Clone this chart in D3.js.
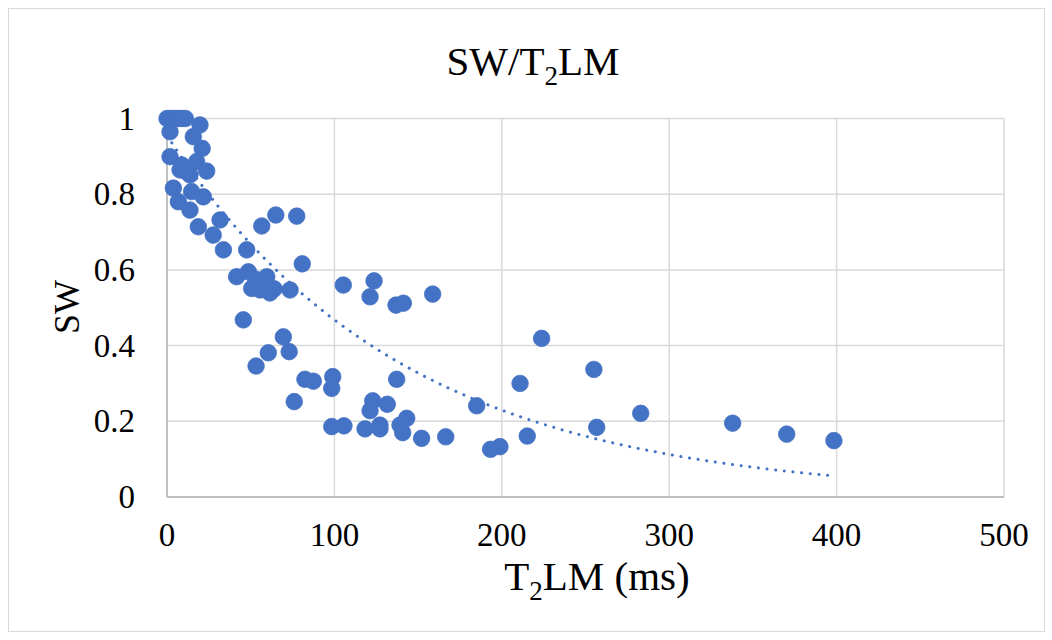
<!DOCTYPE html>
<html>
<head>
<meta charset="utf-8">
<script src="https://cdn.jsdelivr.net/npm/d3@7"></script>
<style>
  body { margin: 0; background: #fff; }
  text { font-family: "Liberation Serif", "Times New Roman", serif; fill: #000; }
</style>
</head>
<body>
<svg id="chart" width="1052" height="640"></svg>
<script>
// T2LM (ms) values of each sample
const t2lm = [
  0, 1.5, 3, 5, 7, 9, 11, 1.8, 19.7, 15.7,
  21, 1.8, 8.8, 17.7, 23.7, 7.8, 13.7, 11.8, 3.8, 14.7,
  21.7, 6.8, 13.7, 31.7, 18.7, 27.6, 33.7, 47.6, 56.6, 65,
  77.5, 80.8, 41.6, 48.6, 59.6, 50.6, 55.6, 61.5, 73.5, 57,
  64, 53, 45.6, 69.5, 60.5, 73, 53.2, 82.4, 87.4, 99,
  98.4, 76, 98.4, 105.7, 118.3, 127.2, 127.2, 122.9, 121.3, 131.6,
  137.2, 105.3, 123.7, 121.3, 136.8, 141.2, 158.7, 185, 143.2, 139.2,
  140.8, 152.1, 166.5, 193.3, 198.9, 223.8, 255, 210.9, 283, 256.7,
  215.2, 337.9, 370.2, 398.4
];
// SW values, same order
const sw = [
  1, 1, 1, 1, 1, 1, 1, 0.965, 0.983, 0.952,
  0.921, 0.899, 0.877, 0.886, 0.861, 0.864, 0.851, 0.859, 0.816, 0.807,
  0.793, 0.780, 0.758, 0.732, 0.714, 0.692, 0.653, 0.653, 0.716, 0.745,
  0.742, 0.616, 0.582, 0.595, 0.582, 0.551, 0.547, 0.539, 0.547, 0.565,
  0.55, 0.575, 0.468, 0.423, 0.381, 0.384, 0.346, 0.311, 0.306, 0.318,
  0.287, 0.252, 0.186, 0.188, 0.180, 0.190, 0.180, 0.254, 0.228, 0.245,
  0.311, 0.560, 0.571, 0.529, 0.507, 0.512, 0.536, 0.241, 0.208, 0.190,
  0.170, 0.155, 0.159, 0.126, 0.133, 0.419, 0.337, 0.300, 0.221, 0.184,
  0.161, 0.195, 0.166, 0.149
];
// exponential trendline SW = a * exp(-b * T2LM)
const trendA = 0.955;
const trendB = 0.00713;

const xTicks = [0, 100, 200, 300, 400, 500];
const yTicks = [0, 0.2, 0.4, 0.6, 0.8, 1];

const blue = "#4472C4";
const svg = d3.select("#chart");

// chart border
svg.append("rect")
  .attr("x", 8.5).attr("y", 8.5)
  .attr("width", 1036).attr("height", 623)
  .attr("fill", "#fff")
  .attr("stroke", "#d9d9d9")
  .attr("stroke-width", 1);

const x = d3.scaleLinear().domain([0, 500]).range([167, 1004]);
const y = d3.scaleLinear().domain([0, 1]).range([497, 118.5]);

// gridlines
svg.append("g").selectAll("line")
  .data(yTicks.slice(1))
  .enter().append("line")
  .attr("x1", x(0)).attr("x2", x(500))
  .attr("y1", d => y(d)).attr("y2", d => y(d))
  .attr("stroke", "#d9d9d9").attr("stroke-width", 1.5);

svg.append("g").selectAll("line")
  .data(xTicks.slice(1))
  .enter().append("line")
  .attr("x1", d => x(d)).attr("x2", d => x(d))
  .attr("y1", y(0)).attr("y2", y(1))
  .attr("stroke", "#d9d9d9").attr("stroke-width", 1.5);

// axis lines
svg.append("line")
  .attr("x1", x(0)).attr("x2", x(500))
  .attr("y1", y(0)).attr("y2", y(0))
  .attr("stroke", "#bfbfbf").attr("stroke-width", 2);
svg.append("line")
  .attr("x1", x(0)).attr("x2", x(0))
  .attr("y1", y(0)).attr("y2", y(1))
  .attr("stroke", "#bfbfbf").attr("stroke-width", 2);

// tick labels
svg.append("g").selectAll("text")
  .data(xTicks)
  .enter().append("text")
  .attr("x", d => x(d)).attr("y", 546)
  .attr("text-anchor", "middle")
  .attr("font-size", 33)
  .text(d => d);

svg.append("g").selectAll("text")
  .data(yTicks)
  .enter().append("text")
  .attr("x", 135).attr("y", d => y(d) + 11)
  .attr("text-anchor", "end")
  .attr("font-size", 33)
  .text(d => d);

// points
const pts = t2lm.map((v, i) => ({ t: v, s: sw[i] }));
svg.append("g").selectAll("circle")
  .data(pts)
  .enter().append("circle")
  .attr("cx", d => x(d.t))
  .attr("cy", d => y(d.s))
  .attr("r", 8.3)
  .attr("fill", blue)
  .attr("stroke", blue)
  .attr("stroke-width", 0.75);

// dotted trendline over the data range
const tMin = d3.min(t2lm), tMax = d3.max(t2lm);
const trend = d3.range(0, 201).map(i => {
  const t = tMin + (tMax - tMin) * i / 200;
  return [t, trendA * Math.exp(-trendB * t)];
});
svg.append("path")
  .datum(trend)
  .attr("d", d3.line().x(d => x(d[0])).y(d => y(d[1])))
  .attr("fill", "none")
  .attr("stroke", blue)
  .attr("stroke-width", 3)
  .attr("stroke-linecap", "round")
  .attr("stroke-dasharray", "0.1 8.6");

// title
const title = svg.append("text")
  .attr("x", 533).attr("y", 75)
  .attr("text-anchor", "middle")
  .attr("font-size", 41);
title.append("tspan").text("SW/T");
title.append("tspan").attr("font-size", 27).attr("dy", 10).text("2");
title.append("tspan").attr("dy", -10).text("LM");

// x axis title
const xt = svg.append("text")
  .attr("x", 597).attr("y", 590)
  .attr("text-anchor", "middle")
  .attr("font-size", 41);
xt.append("tspan").text("T");
xt.append("tspan").attr("font-size", 27).attr("dy", 10).text("2");
xt.append("tspan").attr("dy", -10).text("LM (ms)");

// y axis title
svg.append("text")
  .attr("transform", "translate(79,307) rotate(-90)")
  .attr("text-anchor", "middle")
  .attr("font-size", 36)
  .text("SW");
</script>
</body>
</html>
